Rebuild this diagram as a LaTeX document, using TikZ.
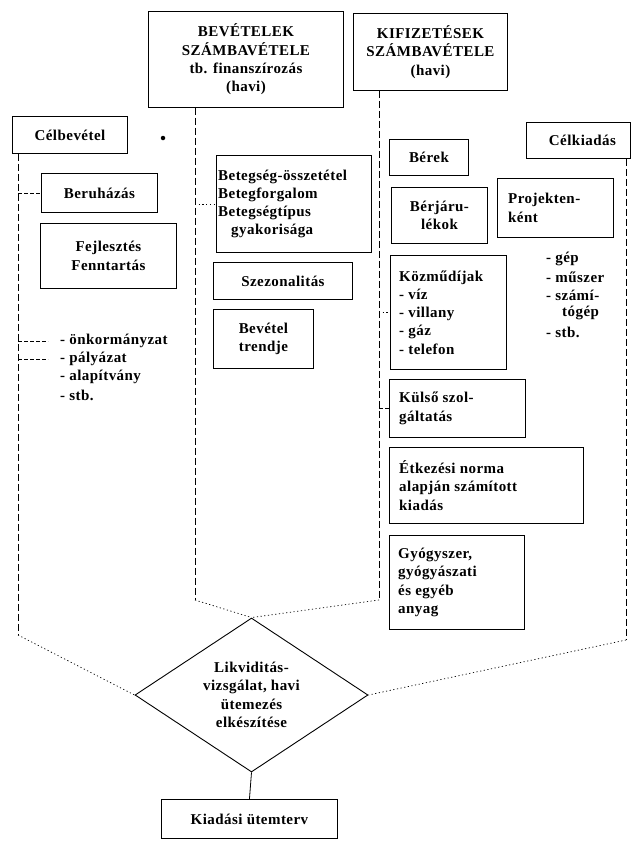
\documentclass[tikz,border=0pt]{standalone}
\usepackage{fontspec}
\setmainfont{Liberation Serif}[LetterSpace=3]
\usetikzlibrary{shapes.geometric}
\begin{document}
\begin{tikzpicture}[x=1pt,y=-1pt,
  box/.style={draw, line width=0.9pt, rectangle, inner sep=0pt, anchor=north west},
  txt/.style={font=\fontsize{15}{18.3}\selectfont\bfseries, align=center, inner sep=0pt},
  ltxt/.style={txt, align=left, anchor=west},
  trunk/.style={line width=0.7pt, dash pattern=on 7pt off 3pt},
  dotline/.style={line width=0.7pt, dash pattern=on 1.2pt off 2.5pt},
  tick/.style={line width=0.7pt, dash pattern=on 4pt off 2pt}]
\useasboundingbox[fill=white] (0,0) rectangle (632,841);

% ---- boxes ----
\node[box, minimum width=195, minimum height=96] (bev) at (148,11) {};
\node[txt] (bevT) at (bev.center) {BEVÉTELEK\\SZÁMBAVÉTELE\\tb. finanszírozás\\(havi)};

\node[box, minimum width=154, minimum height=77] (kif) at (353,13) {};
\node[txt] (kifT) at (kif.center) {KIFIZETÉSEK\\SZÁMBAVÉTELE\\(havi)};

\node[box, minimum width=115, minimum height=37] (celbev) at (12,116) {};
\node[txt] (celbevT) at (celbev.center) {Célbevétel};

\node[box, minimum width=104, minimum height=36] (celkiad) at (526,122) {};
\node[txt] (celkiadT) at ([xshift=4]celkiad.center) {Célkiadás};

\node[box, minimum width=116, minimum height=39] (beruh) at (41,173) {};
\node[txt] (beruhT) at (beruh.center) {Beruházás};

\node[box, minimum width=136, minimum height=65] (fejl) at (40,223) {};
\node[txt] (fejlT) at (fejl.center) {Fejlesztés\\Fenntartás};

\node[box, minimum width=155, minimum height=97] (beteg) at (216,155) {};
\node[ltxt] (betegT) at ([xshift=2]beteg.west) {Betegség-összetétel\\Betegforgalom\\Betegségtípus\\\hspace*{13pt}gyakorisága};

\node[box, minimum width=139, minimum height=37] (szez) at (213,262) {};
\node[txt] (szezT) at (szez.center) {Szezonalitás};

\node[box, minimum width=100, minimum height=59] (trend) at (213,309) {};
\node[txt] (trendT) at (trend.center) {Bevétel\\trendje};

\node[box, minimum width=79, minimum height=36] (berek) at (389,139) {};
\node[txt] (berekT) at (berek.center) {Bérek};

\node[box, minimum width=96, minimum height=56] (berj) at (391,187) {};
\node[txt] (berjT) at (berj.center) {Bérjáru-\\lékok};

\node[box, minimum width=116, minimum height=59] (proj) at (497,178) {};
\node[ltxt] (projT) at ([xshift=11]proj.west) {Projekten-\\ként};

\node[box, minimum width=116, minimum height=114] (kozmu) at (390,255) {};
\node[ltxt] (kozmuT) at ([xshift=9]kozmu.west) {Közműdíjak\\- víz\\- villany\\- gáz\\- telefon};

\node[box, minimum width=136, minimum height=58] (kulso) at (389,379) {};
\node[ltxt] (kulsoT) at ([xshift=10]kulso.west) {Külső szol-\\gáltatás};

\node[box, minimum width=194, minimum height=76] (etk) at (389,447) {};
\node[ltxt] (etkT) at ([xshift=10]etk.west) {Étkezési norma\\alapján számított\\kiadás};

\node[box, minimum width=135, minimum height=94] (gyogy) at (389,535) {};
\node[ltxt] (gyogyT) at ([xshift=9]gyogy.west) {Gyógyszer,\\gyógyászati\\és egyéb\\anyag};

\node[draw, diamond, minimum width=233, minimum height=154, inner sep=0pt, line width=0.9pt] (liq) at (251.5,695) {};
\node[txt] (liqT) at (liq.center) {Likviditás-\\vizsgálat, havi\\ütemezés\\elkészítése};

\node[box, minimum width=176, minimum height=39] (kiad) at (161,799) {};
\node[txt] (kiadT) at (kiad.center) {Kiadási ütemterv};

% ---- lists ----
\node[ltxt] (lo1) at (60,341) {- önkormányzat};
\node[ltxt] (lo2) at (60,359) {- pályázat};
\node[ltxt] (lo3) at (60,377) {- alapítvány};
\node[ltxt] (lo4) at (60,395) {- stb.};

\node[ltxt] (ro1) at (546,259) {- gép};
\node[ltxt] (ro2) at (546,277) {- műszer};
\node[ltxt] (ro3) at (546,295) {- számí-};
\node[ltxt] (ro4) at (562,313) {tógép};
\node[ltxt] (ro5) at (546,332) {- stb.};

\node[circle, fill, inner sep=0pt, minimum size=4.5pt] (dot) at (163,138) {};

% ---- trunk lines ----
\coordinate (L1) at (18,635);
\coordinate (ML) at (195,600);
\coordinate (MR) at (379,600);
\coordinate (R1) at (626,640);

\draw[trunk] (celbev.south -| L1) -- (L1);
\draw[dotline] (L1) -- (liq.west);
\draw[trunk] (bev.south -| ML) -- (ML);
\draw[dotline] (ML) -- (liq.north);
\draw[trunk] (kif.south -| MR) -- (MR);
\draw[dotline] (MR) -- (liq.north);
\draw[trunk] (celkiad.south -| R1) -- (R1);
\draw[dotline] (R1) -- (liq.east);
\draw[line width=0.8pt] (liq.south) -- (kiad.north);

% ---- ticks ----
\draw[tick] (L1 |- beruh.west) -- (beruh.west);
\draw[tick] (L1 |- lo1.west) -- ([xshift=-12]lo1.west);
\draw[tick] (L1 |- lo2.west) -- ([xshift=-12]lo2.west);
\draw[dotline] (ML |- beteg.west) -- (beteg.west);
\draw[dotline] (MR |- kozmu.west) -- (kozmu.west);
\draw[tick] (MR |- kulso.west) -- (kulso.west);
\end{tikzpicture}
\end{document}
